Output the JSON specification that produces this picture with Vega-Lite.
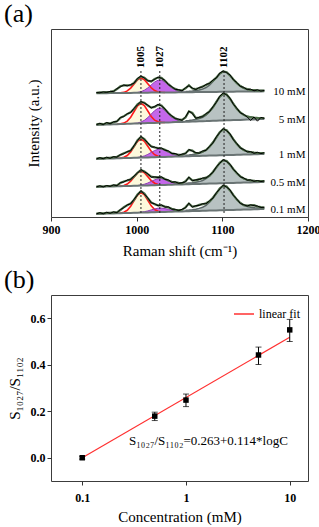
{
"$schema":"https://vega.github.io/schema/vega-lite/v6.json",
"autosize":{"type":"pad"},
"padding":{"left":3,"top":0,"right":0,"bottom":0},
"background":"white",
"spacing":7,
"resolve":{"scale":{"color":"independent"},"legend":{"color":"independent"}},
"config":{"font":"Liberation Serif","view":{"stroke":"#3c3c3c","strokeWidth":1},
"axis":{"domain":false,"grid":false,"tickColor":"#333","tickSize":4,"labelColor":"#000","titleColor":"#000","labelFont":"Liberation Serif","titleFont":"Liberation Serif","labelFontWeight":"bold","labelFontSize":12,"titleFontWeight":"normal","titleFontSize":15},
"title":{"font":"Liberation Serif","fontWeight":"normal","fontSize":26,"anchor":"start","color":"#000"}},
"datasets":{
"pk":[{"x":1005,"t":"1005"},{"x":1027,"t":"1027"},{"x":1102,"t":"1102"}],
"rt":[{"c":0.1,"y":0.0,"lo":-0.006,"hi":0.006},{"c":0.5,"y":0.179,"lo":0.16,"hi":0.196},{"c":1,"y":0.248,"lo":0.22,"hi":0.274},{"c":5,"y":0.442,"lo":0.401,"hi":0.476},{"c":10,"y":0.55,"lo":0.5,"hi":0.595}],
"lf":[{"c":0.1,"y":0.0},{"c":10,"y":0.518}],
"sp":[
{"s":"10 mM","x":953,"b":123.7,"f":124.2,"w":124.5},
{"s":"10 mM","x":957,"b":123.8,"f":124.6,"w":124.2},
{"s":"10 mM","x":961,"b":123.8,"f":124.6,"w":125.1},
{"s":"10 mM","x":965,"b":123.8,"f":125.0,"w":124.6},
{"s":"10 mM","x":969,"b":123.9,"f":125.1,"w":125.6},
{"s":"10 mM","x":973,"b":123.9,"f":125.9,"w":125.4},
{"s":"10 mM","x":977,"b":124.0,"r":124.0,"f":128.0,"w":128.4},
{"s":"10 mM","x":981,"b":124.0,"r":124.2,"f":130.7,"w":130.2},
{"s":"10 mM","x":985,"b":124.0,"r":124.6,"f":131.6,"w":132.0},
{"s":"10 mM","x":989,"b":124.1,"r":126.1,"f":131.6,"w":131.1},
{"s":"10 mM","x":993,"b":124.1,"r":128.9,"f":131.9,"w":132.4},
{"s":"10 mM","x":997,"b":124.2,"r":133.1,"p":124.3,"f":134.2,"w":133.8},
{"s":"10 mM","x":1001,"b":124.2,"r":137.2,"p":124.6,"f":138.1,"w":138.6},
{"s":"10 mM","x":1005,"b":124.2,"r":138.9,"p":125.3,"f":140.5,"w":140.9},
{"s":"10 mM","x":1009,"b":124.3,"r":137.3,"p":126.8,"f":139.3,"w":138.9},
{"s":"10 mM","x":1013,"b":124.3,"r":133.2,"p":129.1,"f":136.5,"w":136.1},
{"s":"10 mM","x":1017,"b":124.4,"r":129.2,"p":132.1,"f":135.4,"w":135.9},
{"s":"10 mM","x":1021,"b":124.4,"r":126.4,"p":135.0,"f":138.0,"w":137.6},
{"s":"10 mM","x":1025,"b":124.4,"r":125.0,"p":136.8,"f":139.4,"w":139.9},
{"s":"10 mM","x":1029,"b":124.5,"r":124.7,"p":136.9,"f":139.1,"w":138.7},
{"s":"10 mM","x":1033,"b":124.5,"r":124.5,"p":135.1,"f":136.1,"w":136.6},
{"s":"10 mM","x":1037,"b":124.6,"p":132.3,"f":132.8,"w":132.4},
{"s":"10 mM","x":1041,"b":124.6,"p":129.4,"f":129.9,"w":130.4},
{"s":"10 mM","x":1045,"b":124.6,"p":127.1,"f":128.1,"w":127.6},
{"s":"10 mM","x":1049,"b":124.7,"p":125.8,"f":126.8,"w":127.3},
{"s":"10 mM","x":1053,"b":124.7,"p":125.1,"f":126.6,"w":126.1},
{"s":"10 mM","x":1057,"b":124.8,"p":124.9,"g":125.6,"f":128.7,"w":129.2},
{"s":"10 mM","x":1061,"b":124.8,"g":125.7,"f":131.7,"w":131.3},
{"s":"10 mM","x":1065,"b":124.8,"g":126.0,"f":128.5,"w":128.9},
{"s":"10 mM","x":1069,"b":124.9,"g":126.4,"f":127.9,"w":127.4},
{"s":"10 mM","x":1073,"b":124.9,"g":127.0,"f":129.0,"w":129.5},
{"s":"10 mM","x":1077,"b":125.0,"g":128.0,"f":130.5,"w":130.1},
{"s":"10 mM","x":1081,"b":125.0,"g":129.5,"f":132.0,"w":132.6},
{"s":"10 mM","x":1085,"b":125.0,"g":131.9,"f":133.9,"w":133.5},
{"s":"10 mM","x":1089,"b":125.1,"g":135.4,"f":136.4,"w":136.9},
{"s":"10 mM","x":1093,"b":125.1,"g":139.4,"f":139.4,"w":139.0},
{"s":"10 mM","x":1097,"b":125.2,"g":143.4,"f":143.4,"w":143.9},
{"s":"10 mM","x":1101,"b":125.2,"g":145.6,"f":145.6,"w":146.0},
{"s":"10 mM","x":1105,"b":125.2,"g":144.8,"f":144.8,"w":144.4},
{"s":"10 mM","x":1109,"b":125.3,"g":141.6,"f":141.6,"w":142.1},
{"s":"10 mM","x":1113,"b":125.3,"g":137.5,"f":137.5,"w":137.1},
{"s":"10 mM","x":1117,"b":125.4,"g":133.9,"f":133.9,"w":134.4},
{"s":"10 mM","x":1121,"b":125.4,"g":131.0,"f":131.0,"w":130.6},
{"s":"10 mM","x":1125,"b":125.4,"g":129.0,"f":129.0,"w":129.6},
{"s":"10 mM","x":1129,"b":125.5,"g":127.9,"f":127.9,"w":127.4},
{"s":"10 mM","x":1133,"b":125.5,"g":127.2,"f":127.2,"w":127.8},
{"s":"10 mM","x":1137,"b":125.6,"g":126.9,"f":126.9,"w":126.2},
{"s":"10 mM","x":1141,"b":125.6,"g":126.6,"f":126.6,"w":127.2},
{"s":"10 mM","x":1145,"b":125.6,"g":126.5,"f":126.5,"w":125.9},
{"s":"10 mM","x":1149,"b":125.7,"g":126.4,"f":126.4,"w":126.6},
{"s":"5 mM","x":953,"b":92.1,"f":92.6,"w":92.3},
{"s":"5 mM","x":957,"b":92.2,"f":93.2,"w":93.7},
{"s":"5 mM","x":961,"b":92.3,"f":92.8,"w":92.4},
{"s":"5 mM","x":965,"b":92.5,"f":94.0,"w":94.5},
{"s":"5 mM","x":969,"b":92.6,"f":93.6,"w":93.2},
{"s":"5 mM","x":973,"b":92.7,"f":94.7,"w":95.2},
{"s":"5 mM","x":977,"b":92.8,"r":92.8,"f":95.8,"w":95.4},
{"s":"5 mM","x":981,"b":92.9,"r":93.1,"f":99.1,"w":99.6},
{"s":"5 mM","x":985,"b":93.0,"r":93.9,"f":100.9,"w":100.4},
{"s":"5 mM","x":989,"b":93.2,"r":95.9,"f":102.9,"w":103.4},
{"s":"5 mM","x":993,"b":93.3,"r":99.8,"f":104.8,"w":104.3},
{"s":"5 mM","x":997,"b":93.4,"r":105.5,"p":93.6,"f":108.2,"w":108.7},
{"s":"5 mM","x":1001,"b":93.5,"r":111.1,"p":94.0,"f":112.6,"w":112.2},
{"s":"5 mM","x":1005,"b":93.7,"r":113.7,"p":95.0,"f":115.0,"w":115.5},
{"s":"5 mM","x":1009,"b":93.8,"r":111.4,"p":96.7,"f":114.3,"w":113.8},
{"s":"5 mM","x":1013,"b":93.9,"r":106.0,"p":99.4,"f":111.5,"w":111.9},
{"s":"5 mM","x":1017,"b":94.0,"r":100.5,"p":102.9,"f":109.4,"w":109.0},
{"s":"5 mM","x":1021,"b":94.1,"r":96.8,"p":106.4,"f":110.1,"w":110.6},
{"s":"5 mM","x":1025,"b":94.3,"r":95.2,"p":108.7,"f":112.1,"w":112.6},
{"s":"5 mM","x":1029,"b":94.4,"r":94.6,"p":108.8,"f":111.5,"w":111.0},
{"s":"5 mM","x":1033,"b":94.5,"r":94.5,"p":106.8,"f":107.8,"w":108.2},
{"s":"5 mM","x":1037,"b":94.6,"p":103.5,"f":104.0,"w":103.6},
{"s":"5 mM","x":1041,"b":94.7,"p":100.2,"f":100.7,"w":101.2},
{"s":"5 mM","x":1045,"b":94.9,"p":97.8,"f":98.8,"w":98.4},
{"s":"5 mM","x":1049,"b":95.0,"p":96.3,"f":97.3,"w":97.8},
{"s":"5 mM","x":1053,"b":95.1,"p":95.6,"f":97.1,"w":96.7},
{"s":"5 mM","x":1057,"b":95.2,"p":95.4,"g":96.3,"f":99.5,"w":100.0},
{"s":"5 mM","x":1061,"b":95.3,"g":96.5,"f":105.5,"w":105.9},
{"s":"5 mM","x":1065,"b":95.5,"g":97.0,"f":104.0,"w":103.5},
{"s":"5 mM","x":1069,"b":95.6,"g":97.6,"f":99.1,"w":98.7},
{"s":"5 mM","x":1073,"b":95.7,"g":98.4,"f":99.4,"w":99.8},
{"s":"5 mM","x":1077,"b":95.8,"g":99.7,"f":100.7,"w":100.3},
{"s":"5 mM","x":1081,"b":95.9,"g":101.9,"f":102.9,"w":103.4},
{"s":"5 mM","x":1085,"b":96.1,"g":105.2,"f":105.7,"w":105.3},
{"s":"5 mM","x":1089,"b":96.2,"g":109.7,"f":109.7,"w":110.2},
{"s":"5 mM","x":1093,"b":96.3,"g":115.1,"f":115.1,"w":114.7},
{"s":"5 mM","x":1097,"b":96.4,"g":120.3,"f":120.3,"w":120.8},
{"s":"5 mM","x":1101,"b":96.5,"g":123.4,"f":123.4,"w":124.0},
{"s":"5 mM","x":1105,"b":96.7,"g":122.5,"f":122.5,"w":122.1},
{"s":"5 mM","x":1109,"b":96.8,"g":118.3,"f":118.3,"w":118.8},
{"s":"5 mM","x":1113,"b":96.9,"g":113.0,"f":113.0,"w":112.6},
{"s":"5 mM","x":1117,"b":97.0,"g":108.2,"f":108.2,"w":108.7},
{"s":"5 mM","x":1121,"b":97.1,"g":104.5,"f":104.5,"w":104.1},
{"s":"5 mM","x":1125,"b":97.3,"g":102.1,"f":102.1,"w":102.6},
{"s":"5 mM","x":1129,"b":97.4,"g":100.6,"f":100.6,"w":100.1},
{"s":"5 mM","x":1133,"b":97.5,"g":99.8,"f":99.8,"w":96.5},
{"s":"5 mM","x":1137,"b":97.6,"g":99.3,"f":99.3,"w":100.0},
{"s":"5 mM","x":1141,"b":97.7,"g":99.1,"f":99.1,"w":95.8},
{"s":"5 mM","x":1145,"b":97.9,"g":99.0,"f":99.0,"w":99.6},
{"s":"5 mM","x":1149,"b":98.0,"g":99.0,"f":99.0,"w":98.6},
{"s":"1 mM","x":953,"b":58.1,"f":58.4,"w":58.0},
{"s":"1 mM","x":957,"b":58.2,"f":58.8,"w":59.3},
{"s":"1 mM","x":961,"b":58.3,"f":58.7,"w":58.3},
{"s":"1 mM","x":965,"b":58.4,"f":59.2,"w":59.8},
{"s":"1 mM","x":969,"b":58.5,"f":59.1,"w":58.7},
{"s":"1 mM","x":973,"b":58.6,"f":59.8,"w":60.3},
{"s":"1 mM","x":977,"b":58.7,"r":58.7,"f":60.2,"w":59.8},
{"s":"1 mM","x":981,"b":58.8,"r":59.0,"f":62.0,"w":62.5},
{"s":"1 mM","x":985,"b":58.9,"r":59.7,"f":63.7,"w":63.2},
{"s":"1 mM","x":989,"b":59.0,"r":61.5,"f":65.0,"w":65.5},
{"s":"1 mM","x":993,"b":59.1,"r":65.1,"f":66.6,"w":66.2},
{"s":"1 mM","x":997,"b":59.2,"r":70.4,"p":59.3,"f":71.0,"w":71.5},
{"s":"1 mM","x":1001,"b":59.3,"r":75.6,"p":59.6,"f":76.9,"w":76.4},
{"s":"1 mM","x":1005,"b":59.4,"r":77.9,"p":60.1,"f":80.1,"w":80.6},
{"s":"1 mM","x":1009,"b":59.5,"r":75.8,"p":61.1,"f":77.9,"w":77.4},
{"s":"1 mM","x":1013,"b":59.6,"r":70.8,"p":62.6,"f":73.8,"w":74.3},
{"s":"1 mM","x":1017,"b":59.7,"r":65.7,"p":64.6,"f":70.6,"w":70.1},
{"s":"1 mM","x":1021,"b":59.8,"r":62.3,"p":66.5,"f":69.5,"w":70.0},
{"s":"1 mM","x":1025,"b":59.9,"r":60.7,"p":67.7,"f":69.0,"w":68.5},
{"s":"1 mM","x":1029,"b":60.0,"r":60.2,"p":67.8,"f":68.5,"w":69.0},
{"s":"1 mM","x":1033,"b":60.1,"r":60.1,"p":66.8,"f":67.3,"w":66.8},
{"s":"1 mM","x":1037,"b":60.2,"p":65.1,"f":65.6,"w":66.1},
{"s":"1 mM","x":1041,"b":60.3,"p":63.3,"f":63.8,"w":63.4},
{"s":"1 mM","x":1045,"b":60.4,"p":62.0,"f":63.0,"w":63.5},
{"s":"1 mM","x":1049,"b":60.5,"p":61.2,"f":62.2,"w":61.8},
{"s":"1 mM","x":1053,"b":60.6,"p":60.9,"f":62.4,"w":62.9},
{"s":"1 mM","x":1057,"b":60.7,"p":60.8,"g":61.7,"f":63.8,"w":63.3},
{"s":"1 mM","x":1061,"b":60.8,"g":62.0,"f":67.0,"w":67.5},
{"s":"1 mM","x":1065,"b":60.9,"g":62.4,"f":66.4,"w":65.9},
{"s":"1 mM","x":1069,"b":61.0,"g":62.9,"f":63.9,"w":64.4},
{"s":"1 mM","x":1073,"b":61.1,"g":63.7,"f":64.2,"w":63.8},
{"s":"1 mM","x":1077,"b":61.2,"g":65.0,"f":65.5,"w":66.0},
{"s":"1 mM","x":1081,"b":61.3,"g":67.0,"f":67.0,"w":66.6},
{"s":"1 mM","x":1085,"b":61.4,"g":70.2,"f":70.2,"w":70.7},
{"s":"1 mM","x":1089,"b":61.5,"g":74.5,"f":74.5,"w":74.0},
{"s":"1 mM","x":1093,"b":61.6,"g":79.7,"f":79.7,"w":80.2},
{"s":"1 mM","x":1097,"b":61.7,"g":84.8,"f":84.8,"w":84.4},
{"s":"1 mM","x":1101,"b":61.8,"g":87.7,"f":87.7,"w":88.4},
{"s":"1 mM","x":1105,"b":61.9,"g":86.8,"f":86.8,"w":86.3},
{"s":"1 mM","x":1109,"b":62.0,"g":82.7,"f":82.7,"w":83.2},
{"s":"1 mM","x":1113,"b":62.1,"g":77.6,"f":77.6,"w":77.1},
{"s":"1 mM","x":1117,"b":62.2,"g":72.9,"f":72.9,"w":73.4},
{"s":"1 mM","x":1121,"b":62.3,"g":69.4,"f":69.4,"w":68.9},
{"s":"1 mM","x":1125,"b":62.4,"g":67.0,"f":67.0,"w":67.5},
{"s":"1 mM","x":1129,"b":62.5,"g":65.6,"f":65.6,"w":65.1},
{"s":"1 mM","x":1133,"b":62.6,"g":64.8,"f":64.8,"w":65.4},
{"s":"1 mM","x":1137,"b":62.7,"g":64.4,"f":64.4,"w":63.7},
{"s":"1 mM","x":1141,"b":62.8,"g":64.1,"f":64.1,"w":64.7},
{"s":"1 mM","x":1145,"b":62.9,"g":64.0,"f":64.0,"w":63.4},
{"s":"1 mM","x":1149,"b":63.0,"g":63.9,"f":63.9,"w":64.3},
{"s":"0.5 mM","x":953,"b":30.1,"f":30.4,"w":30.1},
{"s":"0.5 mM","x":957,"b":30.2,"f":30.7,"w":31.2},
{"s":"0.5 mM","x":961,"b":30.3,"f":30.5,"w":30.1},
{"s":"0.5 mM","x":965,"b":30.4,"f":31.0,"w":31.5},
{"s":"0.5 mM","x":969,"b":30.5,"f":31.0,"w":30.6},
{"s":"0.5 mM","x":973,"b":30.6,"f":31.6,"w":32.1},
{"s":"0.5 mM","x":977,"b":30.7,"r":30.7,"f":31.7,"w":31.3},
{"s":"0.5 mM","x":981,"b":30.8,"r":31.0,"f":34.0,"w":34.5},
{"s":"0.5 mM","x":985,"b":30.9,"r":31.5,"f":35.5,"w":35.0},
{"s":"0.5 mM","x":989,"b":31.0,"r":33.0,"f":36.5,"w":37.0},
{"s":"0.5 mM","x":993,"b":31.1,"r":35.8,"f":37.8,"w":37.3},
{"s":"0.5 mM","x":997,"b":31.2,"r":40.0,"p":31.3,"f":40.6,"w":41.1},
{"s":"0.5 mM","x":1001,"b":31.3,"r":44.1,"p":31.5,"f":44.3,"w":43.9},
{"s":"0.5 mM","x":1005,"b":31.4,"r":45.9,"p":32.0,"f":47.0,"w":47.4},
{"s":"0.5 mM","x":1009,"b":31.5,"r":44.3,"p":32.8,"f":45.6,"w":45.1},
{"s":"0.5 mM","x":1013,"b":31.6,"r":40.4,"p":34.0,"f":42.8,"w":43.3},
{"s":"0.5 mM","x":1017,"b":31.7,"r":36.4,"p":35.6,"f":40.3,"w":39.8},
{"s":"0.5 mM","x":1021,"b":31.8,"r":33.8,"p":37.2,"f":39.7,"w":40.2},
{"s":"0.5 mM","x":1025,"b":31.9,"r":32.5,"p":38.3,"f":39.9,"w":39.4},
{"s":"0.5 mM","x":1029,"b":32.0,"r":32.2,"p":38.4,"f":39.6,"w":40.1},
{"s":"0.5 mM","x":1033,"b":32.1,"r":32.1,"p":37.5,"f":38.0,"w":37.6},
{"s":"0.5 mM","x":1037,"b":32.2,"p":36.1,"f":36.6,"w":37.1},
{"s":"0.5 mM","x":1041,"b":32.3,"p":34.7,"f":35.2,"w":34.7},
{"s":"0.5 mM","x":1045,"b":32.4,"p":33.7,"f":34.7,"w":35.2},
{"s":"0.5 mM","x":1049,"b":32.5,"p":33.1,"f":34.1,"w":33.7},
{"s":"0.5 mM","x":1053,"b":32.6,"p":32.8,"f":33.8,"w":34.3},
{"s":"0.5 mM","x":1057,"b":32.7,"p":32.8,"g":33.6,"f":35.7,"w":35.2},
{"s":"0.5 mM","x":1061,"b":32.8,"g":33.9,"f":39.4,"w":39.9},
{"s":"0.5 mM","x":1065,"b":32.9,"g":34.2,"f":36.7,"w":36.2},
{"s":"0.5 mM","x":1069,"b":33.0,"g":34.7,"f":36.7,"w":37.2},
{"s":"0.5 mM","x":1073,"b":33.1,"g":35.4,"f":37.9,"w":37.4},
{"s":"0.5 mM","x":1077,"b":33.2,"g":36.5,"f":38.5,"w":39.0},
{"s":"0.5 mM","x":1081,"b":33.3,"g":38.4,"f":39.4,"w":39.0},
{"s":"0.5 mM","x":1085,"b":33.4,"g":41.2,"f":41.2,"w":41.7},
{"s":"0.5 mM","x":1089,"b":33.5,"g":45.0,"f":45.0,"w":44.6},
{"s":"0.5 mM","x":1093,"b":33.6,"g":49.6,"f":49.6,"w":50.1},
{"s":"0.5 mM","x":1097,"b":33.7,"g":54.1,"f":54.1,"w":53.7},
{"s":"0.5 mM","x":1101,"b":33.8,"g":56.7,"f":56.7,"w":57.3},
{"s":"0.5 mM","x":1105,"b":33.9,"g":55.9,"f":55.9,"w":55.5},
{"s":"0.5 mM","x":1109,"b":34.0,"g":52.3,"f":52.3,"w":52.8},
{"s":"0.5 mM","x":1113,"b":34.1,"g":47.8,"f":47.8,"w":47.4},
{"s":"0.5 mM","x":1117,"b":34.2,"g":43.7,"f":43.7,"w":44.2},
{"s":"0.5 mM","x":1121,"b":34.3,"g":40.6,"f":40.6,"w":40.1},
{"s":"0.5 mM","x":1125,"b":34.4,"g":38.5,"f":38.5,"w":39.0},
{"s":"0.5 mM","x":1129,"b":34.5,"g":37.2,"f":37.2,"w":36.8},
{"s":"0.5 mM","x":1133,"b":34.6,"g":36.6,"f":36.6,"w":37.1},
{"s":"0.5 mM","x":1137,"b":34.7,"g":36.2,"f":36.2,"w":35.7},
{"s":"0.5 mM","x":1141,"b":34.8,"g":36.0,"f":36.0,"w":36.5},
{"s":"0.5 mM","x":1145,"b":34.9,"g":35.9,"f":35.9,"w":35.4},
{"s":"0.5 mM","x":1149,"b":35.0,"g":35.8,"f":35.8,"w":36.1},
{"s":"0.1 mM","x":953,"b":3.1,"f":3.4,"w":3.1},
{"s":"0.1 mM","x":957,"b":3.2,"f":3.8,"w":4.3},
{"s":"0.1 mM","x":961,"b":3.3,"f":3.6,"w":3.2},
{"s":"0.1 mM","x":965,"b":3.4,"f":4.2,"w":4.7},
{"s":"0.1 mM","x":969,"b":3.5,"f":4.1,"w":3.7},
{"s":"0.1 mM","x":973,"b":3.6,"f":4.6,"w":5.1},
{"s":"0.1 mM","x":977,"b":3.7,"r":3.7,"f":4.7,"w":4.3},
{"s":"0.1 mM","x":981,"b":3.8,"r":4.0,"f":7.0,"w":7.5},
{"s":"0.1 mM","x":985,"b":3.9,"r":4.8,"f":9.8,"w":9.3},
{"s":"0.1 mM","x":989,"b":4.0,"r":6.7,"f":11.7,"w":12.2},
{"s":"0.1 mM","x":993,"b":4.1,"r":10.6,"f":13.6,"w":13.1},
{"s":"0.1 mM","x":997,"b":4.2,"r":16.3,"p":4.2,"f":17.3,"w":17.8},
{"s":"0.1 mM","x":1001,"b":4.3,"r":21.9,"p":4.4,"f":22.5,"w":22.0},
{"s":"0.1 mM","x":1005,"b":4.4,"r":24.4,"p":4.8,"f":25.8,"w":26.3},
{"s":"0.1 mM","x":1009,"b":4.5,"r":22.1,"p":5.3,"f":23.4,"w":22.9},
{"s":"0.1 mM","x":1013,"b":4.6,"r":16.7,"p":6.1,"f":18.7,"w":19.2},
{"s":"0.1 mM","x":1017,"b":4.7,"r":11.2,"p":7.1,"f":14.6,"w":14.1},
{"s":"0.1 mM","x":1021,"b":4.8,"r":7.5,"p":8.1,"f":12.8,"w":13.3},
{"s":"0.1 mM","x":1025,"b":4.9,"r":5.8,"p":8.8,"f":11.7,"w":11.2},
{"s":"0.1 mM","x":1029,"b":5.0,"r":5.2,"p":8.9,"f":11.6,"w":12.1},
{"s":"0.1 mM","x":1033,"b":5.1,"r":5.1,"p":8.4,"f":10.4,"w":9.9},
{"s":"0.1 mM","x":1037,"b":5.2,"p":7.6,"f":9.6,"w":10.1},
{"s":"0.1 mM","x":1041,"b":5.3,"p":6.8,"f":8.3,"w":7.8},
{"s":"0.1 mM","x":1045,"b":5.4,"p":6.2,"f":7.2,"w":7.7},
{"s":"0.1 mM","x":1049,"b":5.5,"p":5.9,"f":6.9,"w":6.4},
{"s":"0.1 mM","x":1053,"b":5.6,"p":5.7,"f":7.2,"w":7.7},
{"s":"0.1 mM","x":1057,"b":5.7,"p":5.7,"g":6.7,"f":9.7,"w":9.2},
{"s":"0.1 mM","x":1061,"b":5.8,"g":6.9,"f":13.4,"w":13.9},
{"s":"0.1 mM","x":1065,"b":5.9,"g":7.3,"f":10.3,"w":9.8},
{"s":"0.1 mM","x":1069,"b":6.0,"g":7.8,"f":10.8,"w":11.3},
{"s":"0.1 mM","x":1073,"b":6.1,"g":8.6,"f":12.1,"w":11.6},
{"s":"0.1 mM","x":1077,"b":6.2,"g":9.8,"f":12.8,"w":13.3},
{"s":"0.1 mM","x":1081,"b":6.3,"g":11.7,"f":13.7,"w":13.2},
{"s":"0.1 mM","x":1085,"b":6.4,"g":14.7,"f":15.7,"w":16.2},
{"s":"0.1 mM","x":1089,"b":6.5,"g":18.8,"f":19.3,"w":18.8},
{"s":"0.1 mM","x":1093,"b":6.6,"g":23.7,"f":23.7,"w":24.2},
{"s":"0.1 mM","x":1097,"b":6.7,"g":28.5,"f":28.5,"w":28.0},
{"s":"0.1 mM","x":1101,"b":6.8,"g":31.3,"f":31.3,"w":31.9},
{"s":"0.1 mM","x":1105,"b":6.9,"g":30.4,"f":30.4,"w":29.9},
{"s":"0.1 mM","x":1109,"b":7.0,"g":26.6,"f":26.6,"w":27.1},
{"s":"0.1 mM","x":1113,"b":7.1,"g":21.8,"f":21.8,"w":21.3},
{"s":"0.1 mM","x":1117,"b":7.2,"g":17.4,"f":17.4,"w":17.9},
{"s":"0.1 mM","x":1121,"b":7.3,"g":14.0,"f":14.0,"w":13.5},
{"s":"0.1 mM","x":1125,"b":7.4,"g":11.8,"f":11.8,"w":12.3},
{"s":"0.1 mM","x":1129,"b":7.5,"g":10.4,"f":11.4,"w":11.0},
{"s":"0.1 mM","x":1133,"b":7.6,"g":9.7,"f":11.7,"w":12.2},
{"s":"0.1 mM","x":1137,"b":7.7,"g":9.3,"f":11.8,"w":11.3},
{"s":"0.1 mM","x":1141,"b":7.8,"g":9.0,"f":10.5,"w":11.0},
{"s":"0.1 mM","x":1145,"b":7.9,"g":8.9,"f":9.9,"w":9.5},
{"s":"0.1 mM","x":1149,"b":8.0,"g":8.9,"f":9.4,"w":9.7}
]},
"vconcat":[
{"title":{"text":"(a)","frame":"group","dx":-47,"dy":20,"offset":1,"baseline":"alphabetic"},
"width":257,"height":188,
"layer":[
{"data":{"name":"sp"},
"transform":[{"fold":["r","p","g","b","f","w"],"as":["k","v"]}],
"encoding":{
"x":{"field":"x","type":"quantitative","scale":{"domain":[900,1200],"nice":false,"zero":false},"title":"Raman shift (cm⁻¹)",
"axis":{"values":[900,1000,1100,1200],"format":"d","labelPadding":3,"titlePadding":8,"labelFlush":false,"labelOverlap":false}},
"y":{"field":"v","type":"quantitative","stack":null,"scale":{"domain":[0,188],"nice":false,"zero":false},"title":"Intensity (a.u.)","axis":{"labels":false,"ticks":false,"titlePadding":10}}},
"layer":[
{"transform":[{"filter":"datum.k=='r' && isValid(datum.v)"}],"mark":{"type":"area","color":"#fdf9dc","opacity":1},"encoding":{"y2":{"field":"b"},"detail":{"field":"s"}}},
{"transform":[{"filter":"datum.k=='p' && isValid(datum.v)"}],"mark":{"type":"area","color":"#c467ea","opacity":1},"encoding":{"y2":{"field":"b"},"detail":{"field":"s"}}},
{"transform":[{"filter":"datum.k=='g' && isValid(datum.v)"}],"mark":{"type":"area","color":"#b8c2c2","opacity":1},"encoding":{"y2":{"field":"b"},"detail":{"field":"s"}}},
{"transform":[{"filter":"datum.k=='r' && isValid(datum.v)"}],"mark":{"type":"line","color":"#ff1a1a","strokeWidth":1.6},"encoding":{"detail":{"field":"s"}}},
{"transform":[{"filter":"datum.k=='p' && isValid(datum.v)"}],"mark":{"type":"line","color":"#8d3fb5","strokeWidth":1},"encoding":{"detail":{"field":"s"}}},
{"transform":[{"filter":"datum.k=='g' && isValid(datum.v)"}],"mark":{"type":"line","color":"#5b6666","strokeWidth":1.5},"encoding":{"detail":{"field":"s"}}},
{"transform":[{"filter":"datum.k=='b'"}],"mark":{"type":"line","color":"#6a7474","strokeWidth":2},"encoding":{"detail":{"field":"s"}}},
{"transform":[{"filter":"datum.k=='f'"}],"mark":{"type":"line","color":"#4a6b45","strokeWidth":2.2},"encoding":{"detail":{"field":"s"}}},
{"transform":[{"filter":"datum.k=='w'"}],"mark":{"type":"line","color":"#000","strokeWidth":1},"encoding":{"detail":{"field":"s"}}}
]},
{"data":{"name":"pk"},"mark":{"type":"rule","strokeDash":[2,2],"color":"#222","strokeWidth":1},"encoding":{
"x":{"field":"x","type":"quantitative","title":"Raman shift (cm⁻¹)","axis":{"values":[900,1000,1100,1200],"format":"d","labelPadding":3,"titlePadding":8,"labelFlush":false,"labelOverlap":false}},
"y":{"datum":4,"type":"quantitative","title":"Intensity (a.u.)","axis":{"labels":false,"ticks":false,"titlePadding":10}},"y2":{"datum":147}}},
{"data":{"name":"pk"},"mark":{"type":"text","angle":270,"align":"left","baseline":"middle","fontSize":11,"fontWeight":"bold","color":"#000"},"encoding":{
"x":{"field":"x","type":"quantitative","title":"Raman shift (cm⁻¹)","axis":{"values":[900,1000,1100,1200],"format":"d","labelPadding":3,"titlePadding":8,"labelFlush":false,"labelOverlap":false}},
"y":{"datum":149,"type":"quantitative","title":"Intensity (a.u.)","axis":{"labels":false,"ticks":false,"titlePadding":10}},"text":{"field":"t"}}},
{"data":{"name":"sp"},"transform":[{"filter":"datum.x==1149"}],"mark":{"type":"text","align":"right","baseline":"middle","fontSize":11,"dy":1,"color":"#000"},"encoding":{
"x":{"datum":1197,"type":"quantitative","title":"Raman shift (cm⁻¹)","axis":{"values":[900,1000,1100,1200],"format":"d","labelPadding":3,"titlePadding":8,"labelFlush":false,"labelOverlap":false}},
"y":{"field":"b","type":"quantitative","title":"Intensity (a.u.)","axis":{"labels":false,"ticks":false,"titlePadding":10}},"text":{"field":"s"}}}
]},
{"title":{"text":"(b)","frame":"group","dx":-47,"dy":20,"offset":1,"baseline":"alphabetic"},
"width":257,"height":186,
"layer":[
{"encoding":{
"x":{"field":"c","type":"quantitative","scale":{"type":"log","domain":[0.05,15],"nice":false},"title":"Concentration (mM)","axis":{"values":[0.1,1,10],"format":"~g","labelPadding":7,"titlePadding":6,"labelFlush":false,"labelOverlap":false}},
"y":{"field":"y","type":"quantitative","scale":{"domain":[-0.1,0.7],"nice":false,"zero":false},"title":"S₁₀₂₇/S₁₁₀₂","axis":{"values":[0,0.2,0.4,0.6],"format":".1f","labelPadding":2,"titlePadding":8,"labelOverlap":false}}},
"layer":[
{"data":{"name":"lf"},"mark":{"type":"line","strokeWidth":1.2},"encoding":{
"color":{"datum":"linear fit","type":"nominal","scale":{"range":["#ff3030"]},"legend":{"orient":"top-right","title":null,"symbolType":"M-1,0L1,0","symbolSize":400,"symbolStrokeWidth":1.5,"labelFont":"Liberation Serif","labelFontSize":12,"labelFontWeight":"normal","labelColor":"#000","offset":8,"padding":0,"labelOffset":4}}}},
{"data":{"name":"rt"},"mark":{"type":"errorbar","ticks":{"size":6},"color":"#000","thickness":1},"encoding":{"y":{"field":"lo","type":"quantitative"},"y2":{"field":"hi"}}},
{"data":{"name":"rt"},"mark":{"type":"point","shape":"square","filled":true,"color":"#000","size":30,"opacity":1}}
]},
{"data":{"values":[{}]},"mark":{"type":"text","text":"S₁₀₂₇/S₁₁₀₂=0.263+0.114*logC","align":"left","baseline":"middle","fontSize":13,"color":"#000"},"encoding":{
"x":{"datum":0.283,"type":"quantitative","title":"Concentration (mM)","axis":{"values":[0.1,1,10],"format":"~g","labelPadding":7,"titlePadding":6,"labelFlush":false,"labelOverlap":false}},
"y":{"datum":0.072,"type":"quantitative","title":"S₁₀₂₇/S₁₁₀₂","axis":{"values":[0,0.2,0.4,0.6],"format":".1f","labelPadding":2,"titlePadding":8,"labelOverlap":false}}}}
]}
]
}
